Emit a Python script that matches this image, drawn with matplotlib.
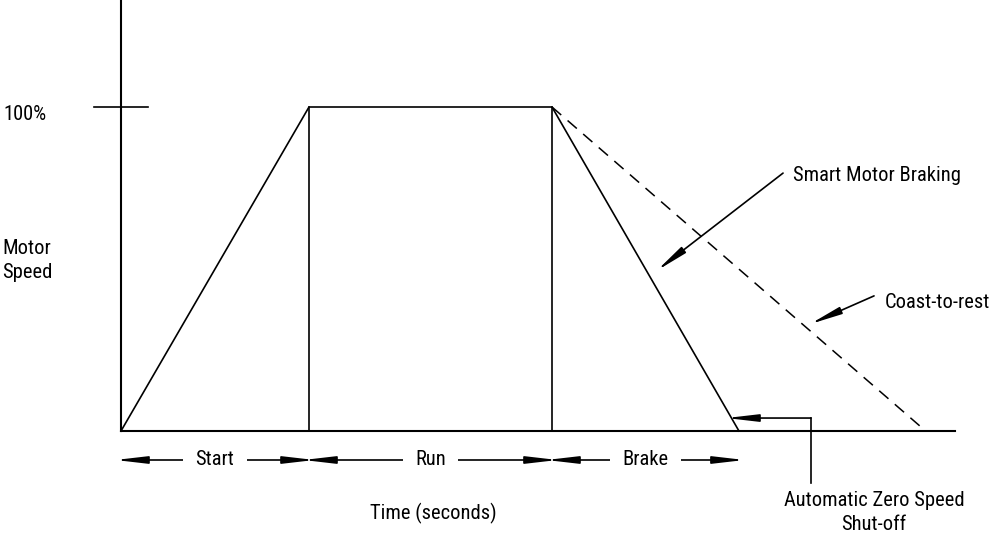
import matplotlib
matplotlib.use("Agg")
import matplotlib.pyplot as plt

plt.rcParams['font.family'] = ['Roboto Condensed', 'Liberation Sans Narrow', 'Liberation Sans', 'DejaVu Sans']

# speed profile (time in seconds, speed in %)
brake_t = [0.0, 2.0, 4.585, 6.574]
brake_speed = [0, 100, 100, 0]
coast_t = [4.585, 8.56]
coast_speed = [100, 0]

phase_names = ['Start', 'Run', 'Brake']
phase_edges = [0.0, 2.0, 4.585, 6.574]

t_end = 8.87   # end of the time axis
fs = 14.8
arrow = dict(arrowstyle='-|>,head_length=1.9,head_width=0.22', mutation_scale=10,
             color='black', lw=1.2, shrinkA=0, shrinkB=0)


def visualiseMotorSpeed():
    fig = plt.figure(figsize=(9.89, 5.37), dpi=100)
    ax = fig.add_axes([0, 0, 1, 1])
    ax.set_xlim(-121 / 94, 868 / 94)
    ax.set_ylim(-106 / 3.24, 431 / 3.24)
    ax.axis('off')

    # axes of the sketch
    ax.plot([0, 0], [0, 133], color='black', lw=1.5)
    ax.plot([0, t_end], [0, 0], color='black', lw=1.5)
    ax.plot([-0.287, 0.287], [100, 100], color='black', lw=1.2)

    ax.plot(brake_t, brake_speed, color='black', lw=1.2)
    for t in phase_edges[1:3]:
        ax.plot([t, t], [0, 100], color='black', lw=1.2)
    ax.plot(coast_t, coast_speed, color='black', lw=1.1, dashes=(8, 5.5))

    # phase arrows
    y_ph = -8.95
    for name, a, b in zip(phase_names, phase_edges[:-1], phase_edges[1:]):
        mid = (a + b) / 2
        ax.annotate('', xy=(a - 0.06, y_ph), xytext=(mid, y_ph), arrowprops=arrow, zorder=1)
        ax.annotate('', xy=(b + 0.06, y_ph), xytext=(mid, y_ph), arrowprops=arrow, zorder=1)
        ax.text(mid, y_ph, name, ha='center', va='center', fontsize=fs, zorder=5,
                bbox=dict(fc='white', ec='none', pad=9))

    ax.text(3.32, -25.3, 'Time (seconds)', ha='center', va='center', fontsize=fs)
    ax.text(-1.255, 97.8, '100%', ha='left', va='center', fontsize=fs)
    ax.text(-1.0, 52.6, 'Motor\nSpeed', ha='center', va='center', fontsize=fs,
            linespacing=1.3)

    # callouts
    ax.annotate('', xy=(5.70, 49.5), xytext=(7.043, 79.6), arrowprops=arrow)
    ax.text(7.149, 79.0, 'Smart Motor Braking', ha='left', va='center', fontsize=fs)
    ax.annotate('', xy=(7.33, 33.0), xytext=(8.011, 41.7), arrowprops=arrow)
    ax.text(8.128, 39.8, 'Coast-to-rest', ha='left', va='center', fontsize=fs)

    ax.plot([7.34, 7.34], [-16.0, 4.0], color='black', lw=1.2)
    ax.annotate('', xy=(6.44, 4.0), xytext=(7.34, 4.0), arrowprops=arrow)
    ax.text(8.01, -25.2, 'Automatic Zero Speed\nShut-off', ha='center', va='center',
            fontsize=fs, linespacing=1.3)

    plt.savefig('out.png', dpi=100)


if __name__ == "__main__":
    visualiseMotorSpeed()
